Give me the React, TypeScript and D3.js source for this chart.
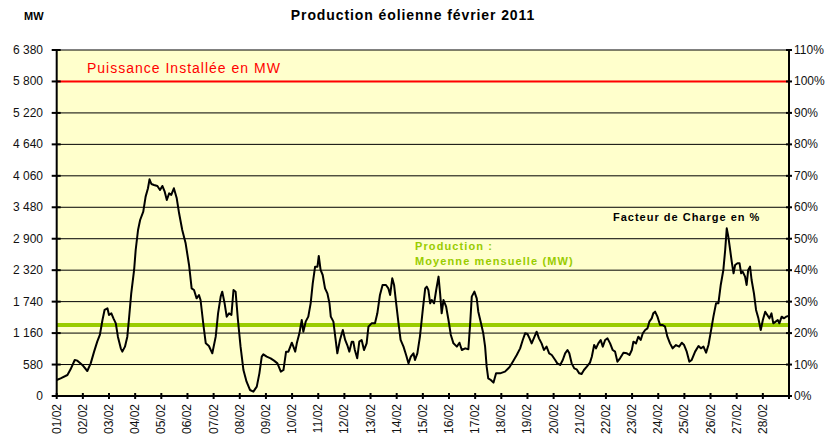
import React, { useEffect } from 'react';
import * as d3 from 'd3';

// Production éolienne, février 2011 : [jour depuis 01/02 00h, MW]
const production: [number, number][] = [
  [0.00, 295], [0.15, 326], [0.41, 387], [0.53, 492], [0.69, 664], [0.79, 652], [0.98, 572],
  [1.17, 461], [1.30, 602], [1.43, 818], [1.55, 1002], [1.65, 1125], [1.75, 1401], [1.83, 1586],
  [1.94, 1617], [2.00, 1494], [2.09, 1524], [2.17, 1432], [2.26, 1340], [2.34, 1094], [2.45, 879],
  [2.51, 818], [2.61, 910], [2.70, 1094], [2.76, 1401], [2.85, 1893], [2.96, 2324], [3.02, 2692],
  [3.11, 3061], [3.19, 3245], [3.31, 3399], [3.40, 3676], [3.49, 3830], [3.55, 3996], [3.62, 3909],
  [3.72, 3891], [3.85, 3873], [3.95, 3799], [4.04, 3873], [4.13, 3768], [4.21, 3614], [4.30, 3737],
  [4.38, 3707], [4.48, 3830], [4.59, 3645], [4.68, 3369], [4.80, 3061], [4.93, 2815], [5.06, 2416],
  [5.16, 1985], [5.25, 1955], [5.35, 1801], [5.44, 1863], [5.50, 1770], [5.61, 1309], [5.70, 971],
  [5.82, 922], [5.95, 787], [6.08, 1094], [6.17, 1524], [6.27, 1832], [6.33, 1924], [6.42, 1709],
  [6.50, 1463], [6.59, 1524], [6.68, 1494], [6.76, 1955], [6.84, 1924], [6.93, 1401], [7.03, 910],
  [7.14, 479], [7.26, 264], [7.39, 111], [7.52, 80], [7.65, 172], [7.75, 418], [7.84, 725],
  [7.90, 768], [8.03, 725], [8.18, 695], [8.31, 652], [8.44, 602], [8.57, 449], [8.67, 479],
  [8.77, 818], [8.86, 818], [8.99, 983], [9.05, 910], [9.12, 818], [9.18, 971], [9.28, 1156],
  [9.37, 1401], [9.43, 1186], [9.52, 1371], [9.62, 1463], [9.71, 1709], [9.79, 2078], [9.88, 2385],
  [9.97, 2385], [10.02, 2582], [10.09, 2324], [10.17, 2231], [10.26, 1985], [10.35, 1893],
  [10.43, 1709], [10.48, 1463], [10.58, 1371], [10.65, 1094], [10.73, 787], [10.83, 1033],
  [10.94, 1217], [11.03, 1033], [11.11, 940], [11.19, 818], [11.28, 1002], [11.34, 1002],
  [11.40, 848], [11.49, 695], [11.57, 1002], [11.66, 1033], [11.75, 848], [11.85, 971],
  [11.92, 1279], [12.04, 1340], [12.17, 1340], [12.26, 1524], [12.36, 1863], [12.46, 2047],
  [12.59, 2047], [12.68, 1985], [12.75, 1863], [12.83, 2170], [12.90, 2047], [12.98, 1709],
  [13.07, 1340], [13.15, 1033], [13.26, 910], [13.36, 756], [13.45, 602], [13.54, 725],
  [13.64, 787], [13.70, 664], [13.79, 787], [13.89, 1100], [14.00, 1600], [14.09, 1985],
  [14.15, 2016], [14.21, 1955], [14.28, 1709], [14.34, 1770], [14.43, 1709], [14.51, 1955],
  [14.60, 2201], [14.66, 1893], [14.72, 1524], [14.79, 1770], [14.89, 1647], [14.98, 1401],
  [15.07, 1125], [15.17, 971], [15.30, 910], [15.40, 983], [15.49, 848], [15.62, 879],
  [15.74, 861], [15.81, 1340], [15.87, 1832], [15.97, 1924], [16.06, 1801], [16.12, 1555],
  [16.21, 1371], [16.31, 1156], [16.38, 910], [16.44, 541], [16.50, 326], [16.60, 295],
  [16.70, 246], [16.80, 418], [16.95, 418], [17.14, 449], [17.31, 529], [17.44, 633],
  [17.59, 756], [17.72, 879], [17.82, 1033], [17.91, 1156], [18.00, 1143], [18.08, 1063],
  [18.16, 971], [18.27, 1094], [18.35, 1186], [18.44, 1063], [18.54, 971], [18.63, 848],
  [18.73, 910], [18.83, 787], [18.93, 756], [19.06, 664], [19.14, 602], [19.25, 572],
  [19.35, 664], [19.44, 787], [19.53, 848], [19.60, 787], [19.69, 602], [19.79, 510],
  [19.88, 492], [19.98, 418], [20.07, 406], [20.16, 479], [20.27, 541], [20.39, 615],
  [20.46, 725], [20.55, 940], [20.62, 879], [20.71, 971], [20.80, 1033], [20.88, 910],
  [20.97, 1033], [21.06, 1063], [21.16, 971], [21.26, 848], [21.35, 818], [21.44, 633],
  [21.54, 695], [21.67, 799], [21.80, 787], [21.90, 756], [21.99, 848], [22.05, 1002],
  [22.15, 971], [22.24, 1094], [22.33, 1033], [22.41, 1156], [22.50, 1217], [22.59, 1248],
  [22.66, 1371], [22.75, 1432], [22.81, 1524], [22.88, 1555], [22.97, 1463], [23.07, 1309],
  [23.17, 1309], [23.26, 1279], [23.35, 1094], [23.45, 971], [23.55, 879], [23.68, 940],
  [23.80, 910], [23.90, 983], [23.99, 940], [24.09, 818], [24.19, 633], [24.28, 664],
  [24.41, 818], [24.54, 922], [24.63, 879], [24.73, 910], [24.83, 799], [24.92, 940],
  [25.00, 1156], [25.11, 1463], [25.21, 1709], [25.30, 1709], [25.39, 2047], [25.49, 2324],
  [25.56, 2692], [25.62, 3092], [25.68, 2938], [25.75, 2692], [25.81, 2477], [25.88, 2262],
  [25.94, 2416], [26.03, 2447], [26.11, 2447], [26.17, 2262], [26.23, 2293], [26.32, 2201],
  [26.38, 2047], [26.44, 2324], [26.51, 2385], [26.57, 2139], [26.66, 1893], [26.74, 1586],
  [26.83, 1432], [26.92, 1217], [27.00, 1401], [27.09, 1555], [27.17, 1494], [27.25, 1432],
  [27.33, 1524], [27.40, 1340], [27.49, 1371], [27.57, 1401], [27.63, 1340], [27.72, 1463],
  [27.81, 1432], [27.89, 1463], [27.98, 1475],
];

const dayLabels = d3.range(1, 29).map((d) => `${String(d).padStart(2, '0')}/02`);
const mwTicks = d3.range(0, 6381, 580);
const pctTicks = d3.range(0, 111, 10);
const installedMW = 5800;
const monthlyMeanMW = 1310;

const W = 837;
const H = 445;
const font = '"Liberation Sans", Arial, sans-serif';

export default function App() {
  useEffect(() => {
    document.body.style.margin = '0';
  }, []);

  const x = d3.scaleLinear().domain([0, 28]).range([56.7, 789]);
  const y = d3.scaleLinear().domain([0, 6380]).range([396, 50]);
  const yPct = d3.scaleLinear().domain([0, 110]).range([396, 50]);
  const fmt = d3.formatLocale({ decimal: ',', thousands: ' ', grouping: [3], currency: ['', ' €'] }).format(',');

  const line = d3.line<[number, number]>()
    .x((d) => x(d[0]))
    .y((d) => y(d[1]));

  const [x0, x1] = x.range();

  return (
    <svg width={W} height={H} style={{ display: 'block', background: '#fff' }} fontFamily={font}>
      <text x={413} y={20} textAnchor="middle" fontSize={14} fontWeight="bold" letterSpacing={0.9}>Production éolienne février 2011</text>
      <text x={24} y={20} fontSize={11} fontWeight="bold">MW</text>

      {/* plot area */}
      <rect x={x0} y={y(6380)} width={x1 - x0} height={y(0) - y(6380)} fill="#ffffcc" />
      {mwTicks.map((t) => (
        <line key={t} x1={x0} x2={x1} y1={y(t)} y2={y(t)} stroke="#000" strokeWidth={1} />
      ))}

      {/* puissance installée */}
      <line x1={x0} x2={x1} y1={y(installedMW)} y2={y(installedMW)} stroke="#ff0000" strokeWidth={2} />
      <text x={87} y={73} fontSize={14} fill="#ff0000" letterSpacing={1}>Puissance Installée en MW</text>

      {/* moyenne mensuelle */}
      <line x1={x0} x2={x1} y1={y(monthlyMeanMW)} y2={y(monthlyMeanMW)} stroke="#99cc00" strokeWidth={4} />
      <text x={415} y={250} fontSize={11} fontWeight="bold" fill="#99cc00" letterSpacing={1.1}>Production :</text>
      <text x={415} y={265} fontSize={11} fontWeight="bold" fill="#99cc00" letterSpacing={1.1}>Moyenne mensuelle (MW)</text>

      <path d={line(production) ?? ''} fill="none" stroke="#000" strokeWidth={2} strokeLinejoin="round" />

      <text x={613} y={221} fontSize={11} fontWeight="bold" letterSpacing={1}>Facteur de Charge en %</text>

      {/* axes */}
      <line x1={x0} x2={x0} y1={y(6380)} y2={y(0)} stroke="#000" strokeWidth={2} />
      <line x1={x1} x2={x1} y1={y(6380)} y2={y(0)} stroke="#000" strokeWidth={2} />
      <line x1={x0} x2={x1} y1={y(0)} y2={y(0)} stroke="#000" strokeWidth={2} />

      {mwTicks.map((t) => (
        <g key={t}>
          <line x1={x0 - 5} x2={x0 + 4} y1={y(t)} y2={y(t)} stroke="#000" strokeWidth={2} />
          <text x={43} y={y(t) + 4} textAnchor="end" fontSize={12} fill="#111">{fmt(t)}</text>
        </g>
      ))}
      {pctTicks.map((p) => (
        <g key={p}>
          <line x1={x1 - 3} x2={x1 + 3} y1={yPct(p)} y2={yPct(p)} stroke="#000" strokeWidth={2} />
          <text x={794} y={yPct(p) + 4} fontSize={12} fill="#111">{`${p}%`}</text>
        </g>
      ))}
      {d3.range(0, 29).map((d) => (
        <line key={d} x1={x(d)} x2={x(d)} y1={y(0) - 3} y2={y(0) + 3} stroke="#000" strokeWidth={2} />
      ))}
      {dayLabels.map((lab, i) => (
        <text
          key={lab}
          transform={`translate(${x(i) + 4},${y(0) + 8}) rotate(-90)`}
          textAnchor="end"
          fontSize={12}
          fill="#111"
        >
          {lab}
        </text>
      ))}
    </svg>
  );
}
